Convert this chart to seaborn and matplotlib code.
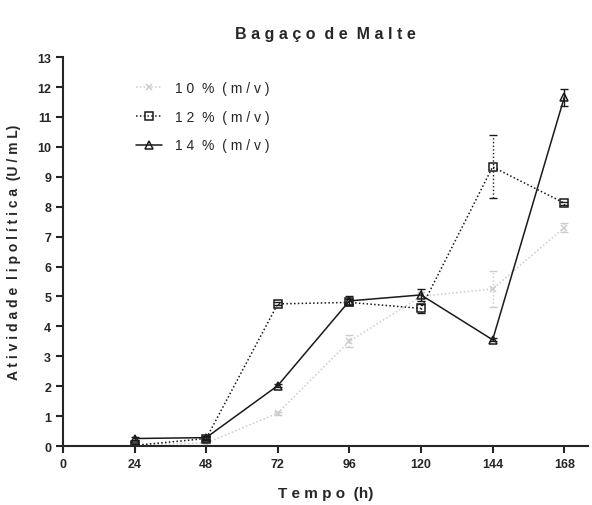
import matplotlib
matplotlib.use("Agg")
import matplotlib.pyplot as plt
import seaborn as sns
import pandas as pd
import numpy as np

tempo = [24, 48, 72, 96, 120, 144, 168]
s10 = [0.05, 0.10, 1.10, 3.50, 5.00, 5.25, 7.30]
e10 = [0.05, 0.05, 0.05, 0.20, 0.15, 0.60, 0.15]
s12 = [0.02, 0.25, 4.75, 4.80, 4.60, 9.33, 8.12]
e12 = [0.05, 0.05, 0.05, 0.10, 0.15, 1.05, 0.05]
s14 = [0.25, 0.28, 2.02, 4.85, 5.05, 3.55, 11.65]
e14 = [0.05, 0.05, 0.05, 0.15, 0.20, 0.05, 0.30]
labels = ["1 0  %  ( m / v )", "1 2  %  ( m / v )", "1 4  %  ( m / v )"]

sns.set_style("ticks")
plt.rcParams['font.family'] = ['Liberation Sans', 'DejaVu Sans']

fig = plt.figure(figsize=(5.92, 5.06), dpi=100)
ax = fig.add_axes([0.1064, 0.1166, 0.887, 0.7686])

series = [
    (s10, e10, labels[0], "#cccccc", "x", 4.0, (0, (1, 1.5)), ":"),
    (s12, e12, labels[1], "#1a1a1a", "s", 5.5, (0, (1, 1.5)), ":"),
    (s14, e14, labels[2], "#1a1a1a", "^", 5.5, "-", "-"),
]

for vals, errs, lab, col, mk, ms, ls, els in series:
    d = pd.DataFrame({"Tempo": tempo, "Atividade": vals})
    sns.lineplot(data=d, x="Tempo", y="Atividade", ax=ax, color=col, marker=mk,
                 linestyle=ls, linewidth=1.1, markersize=ms, markerfacecolor="none",
                 markeredgecolor=col, markeredgewidth=1.1, label=lab)
    eb = ax.errorbar(tempo, vals, yerr=errs, fmt="none", ecolor=col,
                     elinewidth=1.0, capsize=3, capthick=1.0)
    eb[2][0].set_linestyle(els)

ax.set_xlim(0, 176)
ax.set_ylim(0, 13)
ax.set_xticks([0, 24, 48, 72, 96, 120, 144, 168])
ax.set_yticks(range(0, 14))
ax.tick_params(axis="both", direction="out", length=5, width=1.5, labelsize=9)
for lab in ax.get_xticklabels() + ax.get_yticklabels():
    lab.set_fontweight("bold")
for side in ["left", "bottom"]:
    ax.spines[side].set_linewidth(1.5)
ax.spines["top"].set_visible(False)
ax.spines["right"].set_visible(False)

ax.set_xlabel("T e m p o  (h)", fontsize=11, fontweight="bold", labelpad=12)
ax.set_ylabel("A t i v i d a d e  l i p o l í t i c a  (U / m L)", fontsize=10, fontweight="bold", labelpad=12)
ax.set_title("B a g a ç o  d e  M a l t e", fontsize=11.5, fontweight="bold", pad=14)

leg = ax.legend(loc="upper left", bbox_to_anchor=(0.128, 0.952), frameon=False,
                borderaxespad=0, fontsize=10, handlelength=1.9, labelspacing=1.05,
                handletextpad=0.9)

fig.savefig("out.png", dpi=100)
